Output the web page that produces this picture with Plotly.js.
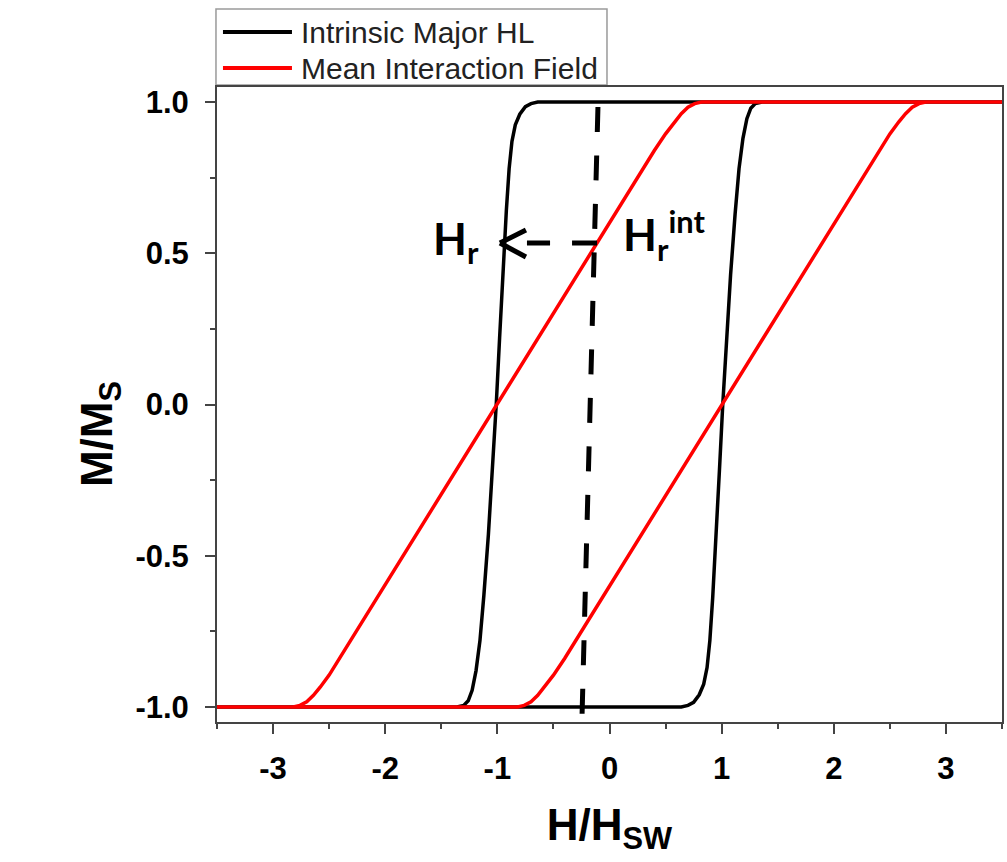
<!DOCTYPE html>
<html><head><meta charset="utf-8">
<script src="https://cdn.plot.ly/plotly-3.0.1.min.js"></script>
<style>html,body{margin:0;padding:0;background:#fff}</style>
</head><body><div id="chart" style="width:1007px;height:862px"></div>
<script>
// ---- data ----
// Intrinsic major hysteresis loop, descending branch (H from +3.5 to -3.5)
var blackDescH = [3.5, -0.64, -0.70, -0.75, -0.80, -0.84, -0.87, -0.895, -0.92, -0.95, -0.98, -1.01, -1.045, -1.08, -1.12, -1.155, -1.19, -1.225, -1.26, -1.30, -1.36, -3.5];
var blackDescM = [1, 1, 0.995, 0.985, 0.96, 0.925, 0.87, 0.78, 0.64, 0.45, 0.22, 0, -0.22, -0.43, -0.63, -0.78, -0.88, -0.945, -0.98, -0.995, -1, -1];
// ascending branch (H from -3.5 to +3.5)
var blackAscH = [-3.5, 0.64, 0.70, 0.75, 0.80, 0.84, 0.87, 0.895, 0.92, 0.95, 0.98, 1.01, 1.045, 1.08, 1.12, 1.155, 1.19, 1.225, 1.26, 1.30, 1.36, 3.5];
var blackAscM = [-1, -1, -0.995, -0.985, -0.96, -0.925, -0.87, -0.78, -0.64, -0.45, -0.22, 0, 0.22, 0.43, 0.63, 0.78, 0.88, 0.945, 0.98, 0.995, 1, 1];

// Mean interaction field loop
var redDescH = [3.5, 0.82, 0.76, 0.70, 0.64, 0.58, 0.50, 0.40, 0, -0.5, -1, -1.5, -2, -2.4, -2.5, -2.58, -2.64, -2.70, -2.76, -2.82, -3.5];
var redDescM = [1, 1, 0.995, 0.983, 0.962, 0.935, 0.895, 0.84, 0.6, 0.3, 0, -0.3, -0.6, -0.84, -0.895, -0.935, -0.962, -0.983, -0.995, -1, -1];
var redAscH = [-3.5, -0.82, -0.76, -0.70, -0.64, -0.58, -0.50, -0.40, 0, 0.5, 1, 1.5, 2, 2.4, 2.5, 2.58, 2.64, 2.70, 2.76, 2.82, 3.5];
var redAscM = [-1, -1, -0.995, -0.983, -0.962, -0.935, -0.895, -0.84, -0.6, -0.3, 0, 0.3, 0.6, 0.84, 0.895, 0.935, 0.962, 0.983, 0.995, 1, 1];

// Dashed guide lines (H, M end points) and H_r arrow
var hrIntLineH = [-0.103, -0.245];
var hrIntLineM = [0.984, -1.03];
var hrArrowH = [-0.111, -0.736];
var hrArrowTip = [-0.977, 0.534];
var hrArrowM = 0.534;

// Ticks and labels
var xTickVals = [-3, -2, -1, 0, 1, 2, 3];
var xTickText = ['-3', '-2', '-1', '0', '1', '2', '3'];
var yTickVals = [-1, -0.5, 0, 0.5, 1];
var yTickText = ['-1.0', '-0.5', '0.0', '0.5', '1.0'];
var seriesNames = ['Intrinsic Major HL', 'Mean Interaction Field'];
var seriesColors = ['#000000', '#ff0000'];

var FONT = 'Arial, "Liberation Sans", sans-serif';
var AX = '#444444';

var traces = [
  {x: blackDescH.concat(blackAscH), y: blackDescM.concat(blackAscM), mode: 'lines', name: seriesNames[0],
   line: {color: seriesColors[0], width: 3.5}},
  {x: redDescH.concat(redAscH), y: redDescM.concat(redAscM), mode: 'lines', name: seriesNames[1],
   line: {color: seriesColors[1], width: 3.5}}
];

var axisCommon = {
  showgrid: false, zeroline: false, showline: true, linecolor: AX, linewidth: 2, mirror: true,
  ticks: 'outside', ticklen: 10, tickwidth: 2, tickcolor: AX,
  tickfont: {family: FONT, size: 31, weight: 'bold', color: '#000'},
  tickmode: 'array'
};

// legend drawn in paper coordinates above the plot (box, line samples, labels)
var legendRows = [1.0866, 1.0299];
var shapes = [
  {type: 'rect', xref: 'paper', yref: 'paper', x0: -0.0013, x1: 0.4968, y0: 1.0031, y1: 1.1228,
   line: {color: '#9a9a9a', width: 1.5}, fillcolor: '#ffffff', layer: 'below'},
  {type: 'line', xref: 'x', yref: 'y', x0: hrIntLineH[0], y0: hrIntLineM[0], x1: hrIntLineH[1], y1: hrIntLineM[1],
   line: {color: '#000', width: 5, dash: '25px,23.5px'}},
  {type: 'line', xref: 'x', yref: 'y', x0: hrArrowH[0], y0: hrArrowM, x1: hrArrowH[1], y1: hrArrowM,
   line: {color: '#000', width: 5, dash: '25px,22px'}},
  {type: 'line', xref: 'x', yref: 'y', xsizemode: 'pixel', ysizemode: 'pixel',
   xanchor: hrArrowTip[0], yanchor: hrArrowTip[1], x0: 0, y0: 0, x1: 26, y1: 13,
   line: {color: '#000', width: 5}},
  {type: 'line', xref: 'x', yref: 'y', xsizemode: 'pixel', ysizemode: 'pixel',
   xanchor: hrArrowTip[0], yanchor: hrArrowTip[1], x0: 0, y0: 0, x1: 26, y1: -14,
   line: {color: '#000', width: 5}}
];
var annotations = [
  {x: -1.15, y: 0.54, xref: 'x', yref: 'y', xanchor: 'right', yanchor: 'middle', showarrow: false,
   text: 'H<sub>r</sub>', font: {family: 'Lato, "Open Sans", sans-serif', size: 44, weight: 'bold', color: '#000'}},
  {x: 0.1, y: 0.56, xref: 'x', yref: 'y', xanchor: 'left', yanchor: 'middle', showarrow: false,
   text: 'H<sub>r</sub><sup>int</sup>', font: {family: 'Lato, "Open Sans", sans-serif', size: 44, weight: 'bold', color: '#000'}},
  {x: -0.149, y: 0.4535, xref: 'paper', yref: 'paper', xanchor: 'center', yanchor: 'middle', showarrow: false,
   textangle: -90, text: 'M/M<sub>S</sub>', font: {family: FONT, size: 44, weight: 'bold', color: '#000'}}
];
for (var i = 0; i < seriesNames.length; i++) {
  shapes.push({type: 'line', xref: 'paper', yref: 'paper', x0: 0.0076, x1: 0.0955, y0: legendRows[i], y1: legendRows[i],
               line: {color: seriesColors[i], width: 4}});
  annotations.push({x: 0.1045, y: legendRows[i], xref: 'paper', yref: 'paper', xanchor: 'left', yanchor: 'middle',
                    showarrow: false, text: seriesNames[i], font: {family: FONT, size: 30, color: '#222'}});
}

var layout = {
  width: 1007, height: 862,
  margin: {l: 217, r: 5, t: 87, b: 140, autoexpand: false},
  paper_bgcolor: '#ffffff', plot_bgcolor: '#ffffff',
  showlegend: false,
  xaxis: Object.assign({}, axisCommon, {
    range: [-3.5, 3.5], tickvals: xTickVals, ticktext: xTickText, ticklabelstandoff: 8,
    minor: {tick0: 0, dtick: 0.5, ticks: 'outside', ticklen: 5, tickwidth: 2, tickcolor: AX},
    title: {text: 'H/H<sub>SW</sub>', font: {family: FONT, size: 44, weight: 'bold', color: '#000'}, standoff: 24}
  }),
  yaxis: Object.assign({}, axisCommon, {
    range: [-1.05, 1.05], tickvals: yTickVals, ticktext: yTickText, ticklabelstandoff: 10,
    minor: {tick0: 0, dtick: 0.25, ticks: 'outside', ticklen: 5, tickwidth: 2, tickcolor: AX}
  }),
  shapes: shapes,
  annotations: annotations
};

Plotly.newPlot('chart', traces, layout, {displayModeBar: false, staticPlot: true});
</script></body></html>
